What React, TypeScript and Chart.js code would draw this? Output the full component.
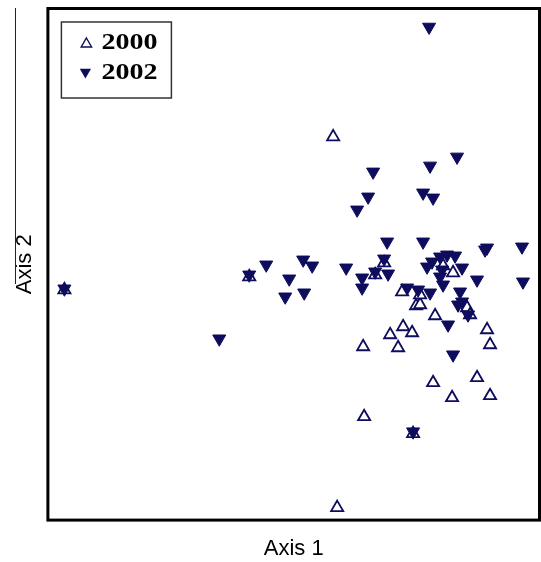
import React, { useEffect, useRef } from 'react';
import { Chart, registerables } from 'chart.js';

Chart.register(...registerables);

const NAVY = '#0e0c5c';

// Ordination scores (arbitrary units)
const x2000 = [2.85, 2.89, 0.16, 2.01, 3.65, 3.36, 3.27, 3.54, 3.68, 3.72, 3.87, 4.05, 4.19, 4.22, 4.39, 4.42, 3.15, 3.42, 3.55, 3.64, 3.50, 3.85, 4.29, 4.04, 4.42, 3.16, 3.72, 3.95];
const y2000 = [3.83, 0.12, 2.30, 2.43, 0.86, 2.57, 2.45, 2.28, 2.14, 2.15, 2.04, 2.47, 2.12, 2.05, 1.90, 1.75, 1.73, 1.85, 1.93, 1.87, 1.72, 1.37, 1.42, 1.22, 1.24, 1.03, 2.25, 2.54];

const x2002 = [3.81, 3.25, 3.82, 4.09, 3.20, 3.09, 3.75, 3.85, 3.39, 3.75, 4.39, 4.74, 4.75, 2.18, 2.55, 2.64, 2.01, 2.41, 2.37, 2.56, 2.98, 3.14, 3.14, 3.27, 3.36, 3.40, 3.84, 3.92, 3.99, 4.07, 3.79, 3.94, 3.92, 3.95, 4.14, 4.29, 3.59, 3.70, 3.82, 4.12, 4.14, 4.10, 4.20, 4.00, 4.05, 3.65, 1.71, 0.16, 4.37];
const y2002 = [4.93, 3.48, 3.54, 3.63, 3.23, 3.10, 3.27, 3.22, 2.78, 2.78, 2.72, 2.73, 2.38, 2.55, 2.60, 2.54, 2.45, 2.41, 2.23, 2.27, 2.52, 2.42, 2.32, 2.48, 2.61, 2.46, 2.58, 2.63, 2.65, 2.64, 2.53, 2.50, 2.43, 2.35, 2.52, 2.40, 2.32, 2.30, 2.27, 2.28, 2.18, 2.15, 2.05, 1.95, 1.65, 0.88, 1.81, 2.31, 2.70];

const seriesLabels = ['2000', '2002'];
const xTitle = 'Axis 1';
const yTitle = 'Axis 2';
const xRange = [0, 4.91];
const yRange = [0, 5.11];

const toPoints = (xs: number[], ys: number[]) => xs.map((x, i) => ({ x, y: ys[i] }));

const framePlugin = {
  id: 'frameAndLegend',
  afterDraw(chart: any) {
    const { ctx, chartArea } = chart;
    ctx.save();
    // frame
    ctx.strokeStyle = '#000';
    ctx.lineWidth = 3;
    ctx.strokeRect(chartArea.left - 0.5, chartArea.top - 0.5, chartArea.right - chartArea.left + 1, chartArea.bottom - chartArea.top + 1);
    // stray thin line at left
    ctx.strokeStyle = '#222';
    ctx.lineWidth = 1;
    ctx.beginPath();
    ctx.moveTo(15.5, 8);
    ctx.lineTo(15.5, 284);
    ctx.stroke();
    // legend box
    const lx = chartArea.left + 13;
    const ly = chartArea.top + 13;
    ctx.lineWidth = 1.5;
    ctx.strokeStyle = '#333';
    ctx.strokeRect(lx, ly, 110, 76);
    // markers
    const drawTri = (cx: number, cy: number, r: number, down: boolean, filled: boolean) => {
      const s = down ? -1 : 1;
      ctx.beginPath();
      ctx.moveTo(cx, cy - s * r);
      ctx.lineTo(cx + r * 0.866, cy + s * r * 0.5);
      ctx.lineTo(cx - r * 0.866, cy + s * r * 0.5);
      ctx.closePath();
      if (filled) {
        ctx.fillStyle = NAVY;
        ctx.fill();
      } else {
        ctx.strokeStyle = NAVY;
        ctx.lineWidth = 1.4;
        ctx.stroke();
      }
    };
    drawTri(lx + 25, ly + 22, 6, false, false);
    drawTri(lx + 24, ly + 50, 6.5, true, true);
    ctx.fillStyle = '#000';
    ctx.font = 'bold 23px "Liberation Serif", "DejaVu Serif", serif';
    ctx.textBaseline = 'middle';
    ctx.textAlign = 'left';
    const ys = [ly + 21, ly + 51];
    seriesLabels.forEach((t, i) => {
      ctx.save();
      ctx.translate(lx + 40, ys[i]);
      ctx.scale(1.22, 1);
      ctx.fillText(t, 0, 0);
      ctx.restore();
    });
    ctx.restore();
  },
};

export default function App() {
  const ref = useRef<HTMLCanvasElement>(null);
  useEffect(() => {
    document.body.style.margin = '0';
    const chart = new Chart(ref.current as HTMLCanvasElement, {
      type: 'scatter',
      data: {
        datasets: [
          {
            label: seriesLabels[0],
            data: toPoints(x2000, y2000),
            pointStyle: 'triangle',
            pointRadius: 7,
            pointHoverRadius: 7,
            backgroundColor: '#ffffff',
            borderColor: NAVY,
            borderWidth: 1.8,
            order: 1,
          },
          {
            label: seriesLabels[1],
            data: toPoints(x2002, y2002),
            pointStyle: 'triangle',
            rotation: 180,
            pointRadius: 7.5,
            pointHoverRadius: 7.5,
            backgroundColor: NAVY,
            borderColor: NAVY,
            borderWidth: 1,
            order: 0,
          },
        ],
      },
      options: {
        animation: false,
        responsive: false,
        devicePixelRatio: 1,
        layout: { autoPadding: false, padding: { top: 9, right: 2, left: 0, bottom: 0 } },
        plugins: { legend: { display: false }, tooltip: { enabled: false } },
        scales: {
          x: {
            type: 'linear',
            min: xRange[0],
            max: xRange[1],
            ticks: { display: false },
            grid: { display: false, drawTicks: false },
            border: { display: false },
            title: {
              display: true,
              text: xTitle,
              color: '#000',
              font: { family: '"Liberation Sans", Arial, sans-serif', size: 22 },
              padding: { top: 16, bottom: 0 },
            },
          },
          y: {
            type: 'linear',
            min: yRange[0],
            max: yRange[1],
            ticks: { display: false },
            grid: { display: false, drawTicks: false },
            border: { display: false },
            title: {
              display: true,
              text: yTitle,
              color: '#000',
              font: { family: '"Liberation Sans", Arial, sans-serif', size: 22 },
              padding: { top: 12, bottom: 10 },
            },
          },
        },
      },
      plugins: [framePlugin],
    });
    return () => chart.destroy();
  }, []);
  return (
    <div style={{ width: 541, height: 562, position: 'relative' }}>
      <canvas ref={ref} width={541} height={562} style={{ width: 541, height: 562, display: 'block' }} />
    </div>
  );
}
